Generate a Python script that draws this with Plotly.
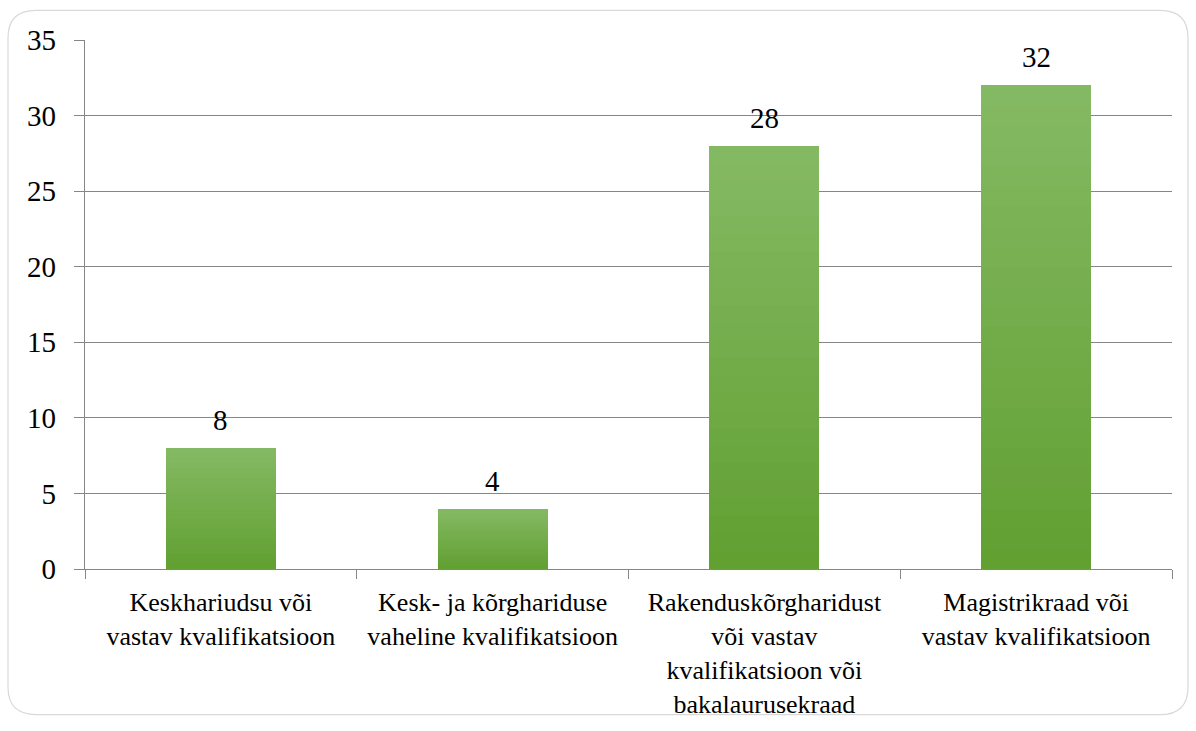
import plotly.graph_objects as go

categories = [
    "Keskhariudsu või<br>vastav kvalifikatsioon",
    "Kesk- ja kõrghariduse<br>vaheline kvalifikatsioon",
    "Rakenduskõrgharidust<br>või vastav<br>kvalifikatsioon või<br>bakalaurusekraad",
    "Magistrikraad või<br>vastav kvalifikatsioon",
]
values = [8, 4, 28, 32]
y_ticks = [0, 5, 10, 15, 20, 25, 30, 35]

FONT = "Times New Roman"
W, H = 1196, 731
ML, MR, MT, MB = 85, 24, 40, 157

# gradient: dark at bottom -> light at top
N = 24
c_bot = (98, 160, 50)
c_top = (132, 185, 99)

fig = go.Figure()
for i in range(N):
    t = i / (N - 1)
    col = tuple(round(c_bot[k] + (c_top[k] - c_bot[k]) * t) for k in range(3))
    fig.add_trace(go.Bar(
        x=categories,
        y=[v / N for v in values],
        marker=dict(color="rgb(%d,%d,%d)" % col, line=dict(width=0)),
        hoverinfo="skip",
        showlegend=False,
    ))

for c, v in zip(categories, values):
    fig.add_annotation(x=c, y=v, text=str(v), showarrow=False,
                       yanchor="bottom", yshift=10,
                       font=dict(family=FONT, size=29, color="black"))

# rounded chart border (in paper coordinates)
pw, ph = W - ML - MR, H - MT - MB
def px(xp):
    return (xp - ML) / pw
def py(yp):
    return (H - MB - yp) / ph
x0, x1, y0, y1 = 8, 1188, 10, 721
r = 28
path = (
    f"M {px(x0 + r)},{py(y0)} L {px(x1 - r)},{py(y0)} "
    f"Q {px(x1)},{py(y0)} {px(x1)},{py(y0 + r)} "
    f"L {px(x1)},{py(y1 - r)} Q {px(x1)},{py(y1)} {px(x1 - r)},{py(y1)} "
    f"L {px(x0 + r)},{py(y1)} Q {px(x0)},{py(y1)} {px(x0)},{py(y1 - r)} "
    f"L {px(x0)},{py(y0 + r)} Q {px(x0)},{py(y0)} {px(x0 + r)},{py(y0)} Z"
)
fig.add_shape(type="path", path=path, xref="paper", yref="paper",
              line=dict(color="#d9d9d9", width=1.2), layer="below")

fig.update_layout(
    width=W, height=H,
    margin=dict(l=ML, r=MR, t=MT, b=MB),
    barmode="stack", bargap=0.595,
    plot_bgcolor="white", paper_bgcolor="white",
    font=dict(family=FONT, color="black"),
    xaxis=dict(
        showline=True, linecolor="#868686", linewidth=1.3,
        ticks="outside", tickson="boundaries", ticklen=9, tickcolor="#868686",
        tickfont=dict(family=FONT, size=26, color="black"),
        ticklabelstandoff=10,
        showgrid=False,
    ),
    yaxis=dict(
        range=[0, 35], tickvals=y_ticks,
        showline=True, linecolor="#868686", linewidth=1.3,
        ticks="outside", ticklen=10, tickcolor="#868686",
        gridcolor="#868686", gridwidth=1.3,
        tickfont=dict(family=FONT, size=29, color="black"),
        ticklabelstandoff=12,
        zeroline=False,
    ),
)

fig.write_html("out.html", config={"displayModeBar": False},
               post_script="document.body.style.margin='0';")
